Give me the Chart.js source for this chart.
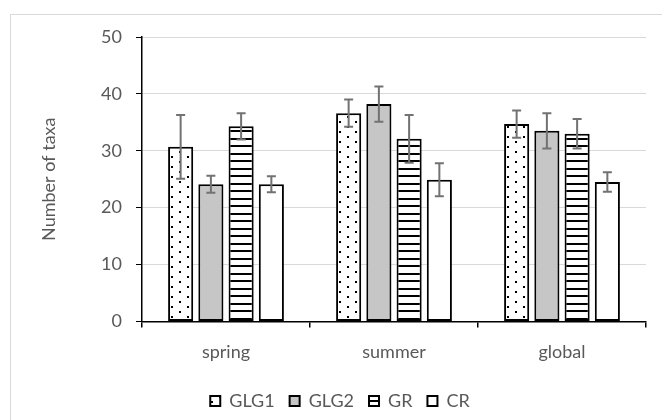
<!DOCTYPE html>
<html>
<head>
<meta charset="utf-8">
<script src="https://cdn.jsdelivr.net/npm/chart.js@4"></script>
<style>
  html, body { margin: 0; padding: 0; background: #fff; }
  #wrap { width: 662px; height: 420px; }
</style>
</head>
<body>
<div id="wrap"><canvas id="chart" width="662" height="420"></canvas></div>
<script>
// Sampling periods
const categories = ['spring', 'summer', 'global'];
// Mean number of taxa per site type
const glg1 = [30.7, 36.6, 34.7];
const glg2 = [24.1, 38.2, 33.5];
const gr   = [34.3, 32.1, 33.0];
const cr   = [24.1, 24.9, 24.5];
// Standard deviations (error bars)
const glg1Err = [5.6, 2.4, 2.4];
const glg2Err = [1.5, 3.1, 3.1];
const grErr   = [2.3, 4.2, 2.6];
const crErr   = [1.4, 2.9, 1.7];
const seriesNames = ['GLG1', 'GLG2', 'GR', 'CR'];
// y axis tick labels
const yTicks = [0, 10, 20, 30, 40, 50];

const TEXT = '#595959';
const FONT = 'Lato, "Open Sans", sans-serif';

function makePattern(w, h, paint) {
  const c = document.createElement('canvas');
  c.width = w; c.height = h;
  const g = c.getContext('2d');
  g.fillStyle = '#fff';
  g.fillRect(0, 0, w, h);
  g.fillStyle = '#000';
  paint(g);
  return document.getElementById('chart').getContext('2d').createPattern(c, 'repeat');
}
// staggered dots
const dots = makePattern(16, 10, g => {
  g.fillRect(3, 1, 2, 2);
  g.fillRect(11, 6, 2, 2);
});
// horizontal stripes
const stripes = makePattern(4, 15, g => {
  g.fillRect(0, 3, 4, 2);
  g.fillRect(0, 10, 4, 2);
});

const fills = [dots, '#c6c6c6', stripes, '#ffffff'];
const values = [glg1, glg2, gr, cr];
const errors = [glg1Err, glg2Err, grErr, crErr];

const datasets = seriesNames.map((name, i) => ({
  label: name,
  data: values[i],
  errors: errors[i],
  backgroundColor: fills[i],
  borderColor: '#000',
  borderWidth: 2,
  borderSkipped: false,
  categoryPercentage: 0.72,
  barPercentage: 0.83
}));

// Outer frame of the chart object
const framePlugin = {
  id: 'frame',
  beforeDraw(chart) {
    const ctx = chart.ctx;
    ctx.save();
    ctx.fillStyle = '#fff';
    ctx.fillRect(0, 0, chart.width, chart.height);
    ctx.strokeStyle = '#d9d9d9';
    ctx.lineWidth = 1;
    ctx.strokeRect(10.5, 14.5, 800, 600);
    ctx.restore();
  }
};

// Legend row sits a little right of the canvas centre
const legendShiftPlugin = {
  id: 'legendShift',
  afterLayout(chart) {
    if (chart.legend) {
      chart.legend.left += 17;
      chart.legend.right += 17;
    }
  }
};

// Error bars: vertical whisker with caps, drawn from value +/- error
const errorBarPlugin = {
  id: 'errorBars',
  afterDatasetsDraw(chart) {
    const ctx = chart.ctx;
    const y = chart.scales.y;
    ctx.save();
    ctx.strokeStyle = '#727272';
    ctx.lineWidth = 2;
    chart.data.datasets.forEach((ds, i) => {
      const meta = chart.getDatasetMeta(i);
      meta.data.forEach((bar, j) => {
        const v = ds.data[j], e = ds.errors[j];
        const top = y.getPixelForValue(v + e);
        const bot = y.getPixelForValue(v - e);
        const x = bar.x;
        const cap = 4.5;
        ctx.beginPath();
        ctx.moveTo(x, top); ctx.lineTo(x, bot);
        ctx.moveTo(x - cap, top); ctx.lineTo(x + cap, top);
        ctx.moveTo(x - cap, bot); ctx.lineTo(x + cap, bot);
        ctx.stroke();
      });
    });
    ctx.restore();
  }
};

new Chart(document.getElementById('chart'), {
  type: 'bar',
  data: { labels: categories, datasets },
  plugins: [framePlugin, legendShiftPlugin, errorBarPlugin],
  options: {
    responsive: false,
    animation: false,
    layout: { padding: { top: 37, right: 16, bottom: 0, left: 0 } },
    plugins: {
      tooltip: { enabled: false },
      legend: {
        position: 'bottom',
        labels: {
          color: TEXT,
          font: { family: FONT, size: 18 },
          boxWidth: 10,
          boxHeight: 10,
          padding: 15
        }
      }
    },
    scales: {
      x: {
        grid: {
          display: true,
          drawOnChartArea: false,
          offset: true,
          tickLength: 6,
          color: '#000',
          lineWidth: 1.5
        },
        border: { display: true, color: '#000', width: 1.5 },
        ticks: {
          color: TEXT,
          font: { family: FONT, size: 18 },
          padding: 14
        }
      },
      y: {
        min: 0,
        max: 50,
        afterBuildTicks(scale) {
          scale.ticks = yTicks.map(v => ({ value: v }));
        },
        afterFit(scale) { scale.width = 142; },
        grid: {
          color: ctx => (ctx.tick && ctx.tick.value === 0) ? 'rgba(0,0,0,0)' : '#d9d9d9',
          tickColor: '#000',
          tickLength: 6,
          lineWidth: 1
        },
        border: { display: true, color: '#000', width: 1.5 },
        ticks: {
          color: TEXT,
          font: { family: FONT, size: 18 },
          padding: 14
        },
        title: {
          display: true,
          text: 'Number of taxa',
          color: TEXT,
          font: { family: FONT, size: 18 },
          padding: { top: 38, bottom: 0 }
        }
      }
    }
  }
});
</script>
</body>
</html>
